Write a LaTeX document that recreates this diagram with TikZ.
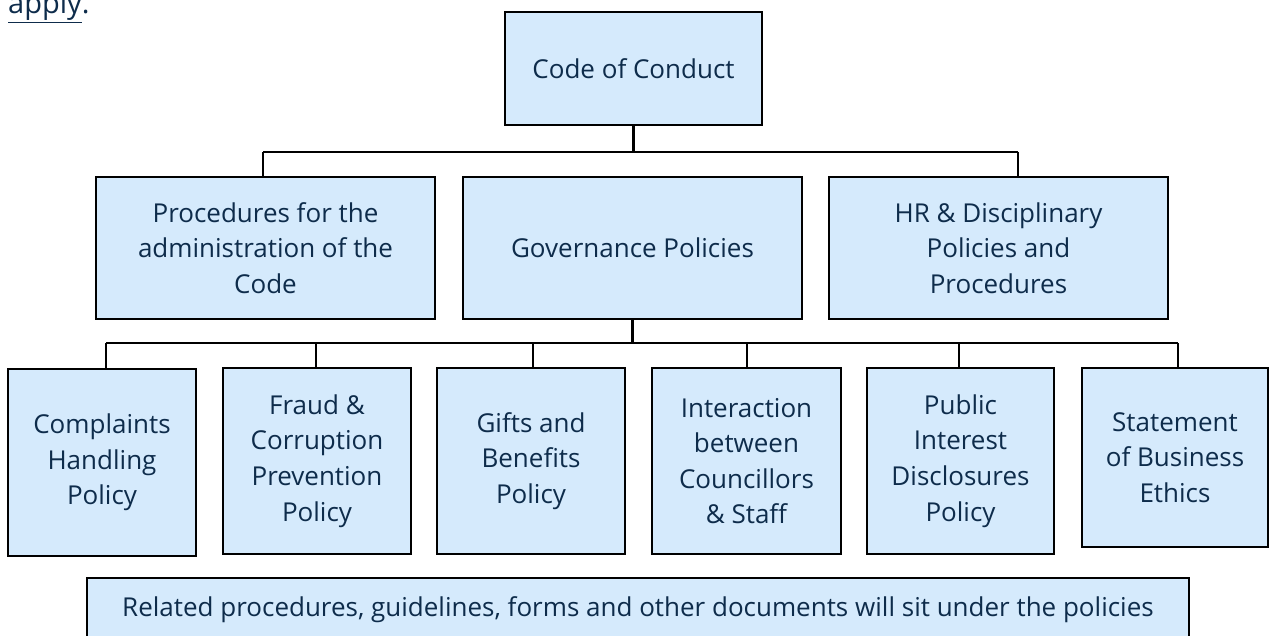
\documentclass[tikz,border=0pt]{standalone}
\usepackage{fontspec}
\setmainfont{Open Sans}
\definecolor{boxblue}{RGB}{213,234,252}
\definecolor{navy}{RGB}{14,44,75}
\begin{document}
\begin{tikzpicture}[x=1pt,y=-1pt,
    box/.style={draw=black,line width=2.5pt,fill=boxblue,text=navy,align=center,
        inner sep=0pt,outer sep=0pt,font=\fontsize{26}{35.6}\selectfont},
    link/.style={draw=black,line width=2.5pt}]
    \useasboundingbox (0,0) rectangle (1276,636);
    \clip (0,0) rectangle (1276,636);

    \node[text=navy,anchor=base west,inner sep=0pt,font=\fontsize{29}{30}\selectfont] (apply) at (8,14) {\underline{apply}.};

    \node[box,minimum width=257pt,minimum height=113pt] (code) at (633.5,68.5) {Code of Conduct};

    \node[box,minimum width=339pt,minimum height=142pt] (proc) at (265.5,248) {Procedures for the\\administration of the\\Code};
    \node[box,minimum width=339pt,minimum height=142pt] (gov) at (632.5,248) {Governance Policies};
    \node[box,minimum width=339pt,minimum height=142pt] (hr) at (998.5,248) {HR \& Disciplinary\\Policies and\\Procedures};

    \node[box,minimum width=188pt,minimum height=187pt] (cmp) at (102,462.5) {Complaints\\Handling\\Policy};
    \node[box,minimum width=188pt,minimum height=186pt] (fraud) at (317,461) {Fraud \&\\Corruption\\Prevention\\Policy};
    \node[box,minimum width=188pt,minimum height=186pt] (gifts) at (531,461) {Gifts and\\Benefits\\Policy};
    \node[box,minimum width=189pt,minimum height=186pt] (inter) at (746.5,461) {Interaction\\between\\Councillors\\\& Staff};
    \node[box,minimum width=187pt,minimum height=186pt] (pub) at (960.5,461) {Public\\Interest\\Disclosures\\Policy};
    \node[box,minimum width=186pt,minimum height=179pt] (stmt) at (1175,457.5) {Statement\\of Business\\Ethics};

    \node[box,minimum width=1102pt,minimum height=64pt] (note) at (638,610) {Related procedures, guidelines, forms and other documents will sit under the policies};

    \coordinate (topL) at (263,152);
    \coordinate (topR) at (1018,152);
    \draw[link] (code.south) -- (code.south |- topL);
    \draw[link] (topL) -- (topR);
    \draw[link] (topL) -- (topL |- proc.north);
    \draw[link] (topR) -- (topR |- hr.north);

    \coordinate (lowL) at (106,343);
    \coordinate (lowR) at (1178,343);
    \draw[link] (gov.south) -- (gov.south |- lowL);
    \draw[link] (lowL) -- (lowR);
    \draw[link] (lowL) -- (lowL |- cmp.north);
    \draw[link] (316,343) -- (316,343 |- fraud.north);
    \draw[link] (533,343) -- (533,343 |- gifts.north);
    \draw[link] (747,343) -- (747,343 |- inter.north);
    \draw[link] (959,343) -- (959,343 |- pub.north);
    \draw[link] (lowR) -- (lowR |- stmt.north);
\end{tikzpicture}
\end{document}
